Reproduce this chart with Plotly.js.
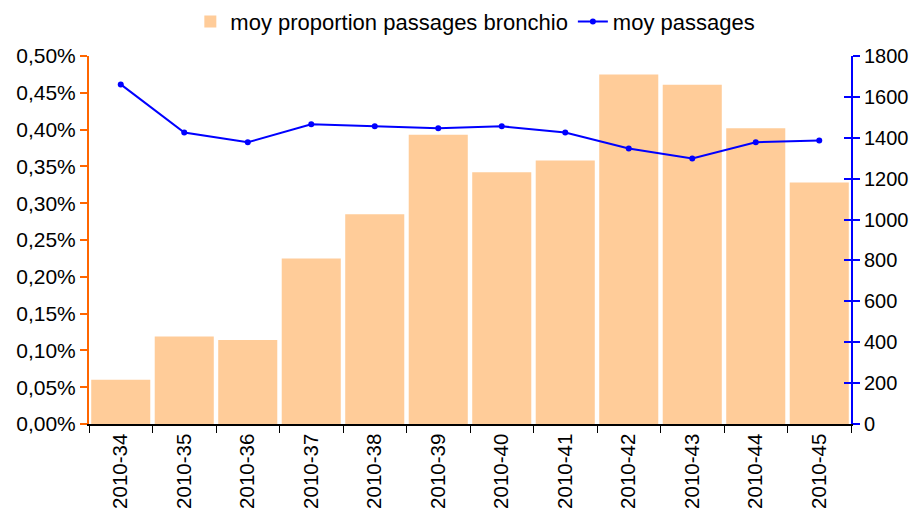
<!DOCTYPE html>
<html>
<head>
<meta charset="utf-8">
<script src="https://cdn.plot.ly/plotly-3.0.1.min.js"></script>
<style>html,body{margin:0;padding:0;background:#fff}#chart{width:918px;height:520px}</style>
</head>
<body>
<div id="chart"></div>
<script>
const weeks = ["2010-34","2010-35","2010-36","2010-37","2010-38","2010-39","2010-40","2010-41","2010-42","2010-43","2010-44","2010-45"];
const proportionPct = [0.060,0.119,0.114,0.225,0.285,0.393,0.342,0.358,0.475,0.461,0.402,0.328];
const passages = [1661,1426,1378,1466,1456,1446,1456,1426,1348,1299,1378,1387];
const barName = "moy proportion passages bronchio";
const lineName = "moy passages";

const FONT = "Liberation Sans, Arial, sans-serif";
const traces = [
  {type:"bar", x:weeks, y:proportionPct, name:barName, marker:{color:"#FFCC99"}, yaxis:"y"},
  {type:"scatter", mode:"lines+markers", x:weeks, y:passages, name:lineName, yaxis:"y2",
   line:{color:"#0000FF", width:2}, marker:{color:"#0000FF", size:6}},
  {type:"scatter", x:[weeks[0]], y:[0], yaxis:"y3", mode:"markers", marker:{opacity:0}, showlegend:false, hoverinfo:"skip"}
];
const layout = {
  width:918, height:520,
  margin:{l:89, r:67, t:56, b:96, autoexpand:false},
  paper_bgcolor:"#fff", plot_bgcolor:"#fff",
  separators:",.",
  font:{family:FONT, size:21, color:"#000"},
  bargap:0.07,
  showlegend:true,
  legend:{orientation:"h", x:0.507, xanchor:"center", xref:"paper", y:1.15, yanchor:"top", yref:"paper", font:{size:22}, tracegroupgap:0, bgcolor:"rgba(0,0,0,0)"},
  xaxis:{type:"category", range:[-0.5, 11.5], showline:true, linecolor:"#000", linewidth:1.5, ticks:"outside", tickson:"boundaries", ticklen:7, tickcolor:"#000", tickangle:-90, showgrid:false, zeroline:false, tickfont:{size:20.5}},
  yaxis:{range:[0,0.5], dtick:0.05, tickformat:".2f", ticksuffix:"%", showline:true, linecolor:"#FF6600", linewidth:2, ticks:"outside", ticklen:7, tickcolor:"#FF6600", tickwidth:2, showgrid:false, zeroline:false, tickfont:{size:21}},
  yaxis2:{range:[0,1800], dtick:200, overlaying:"y", side:"right", showline:true, linecolor:"#0000FF", linewidth:2, ticks:"outside", ticklen:7, tickcolor:"#0000FF", tickwidth:2, showgrid:false, zeroline:false, tickfont:{size:20}},
  yaxis3:{range:[0,1800], dtick:200, overlaying:"y", side:"right", anchor:"x", showline:false, ticks:"inside", ticklen:7, tickcolor:"#0000FF", tickwidth:2, showticklabels:false, showgrid:false, zeroline:false}
};
Plotly.newPlot("chart", traces, layout, {displayModeBar:false, staticPlot:true});
</script>
</body>
</html>
